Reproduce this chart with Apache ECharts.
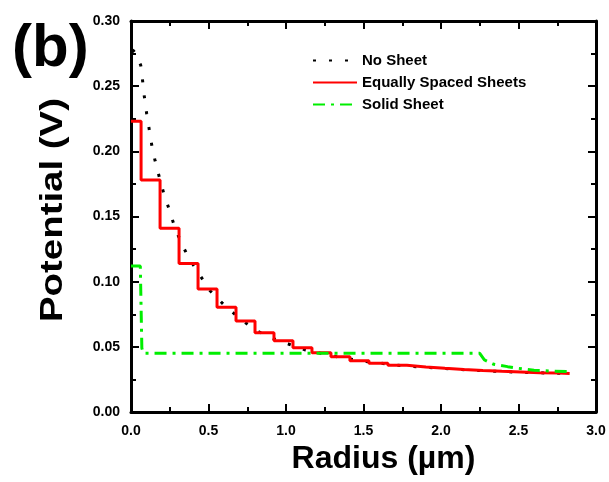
<!DOCTYPE html>
<html><head><meta charset="utf-8">
<script src="https://cdn.jsdelivr.net/npm/echarts@6/dist/echarts.min.js"></script>
<style>html,body{margin:0;padding:0;background:#fff}#c{width:609px;height:482px}</style>
</head><body><div id="c"></div>
<script>
// ---- data ----
var noSheetR = [0.01, 0.03, 0.063, 0.075, 0.086, 0.101, 0.116, 0.135, 0.155, 0.183, 0.213, 0.245, 0.279, 0.323, 0.374, 0.439, 0.51, 0.602, 0.708, 0.817, 0.916, 1.02, 1.123, 1.3, 1.5, 1.75, 2.0, 2.25, 2.5, 2.83];
var noSheetV = [0.278, 0.275, 0.266, 0.254, 0.242, 0.229, 0.218, 0.204, 0.193, 0.180, 0.167, 0.156, 0.143, 0.130, 0.118, 0.106, 0.093, 0.082, 0.071, 0.062, 0.0565, 0.052, 0.0476, 0.043, 0.039, 0.0355, 0.0335, 0.0318, 0.0305, 0.0295];

var stepEdges = [0.065, 0.1875, 0.31, 0.4325, 0.555, 0.6775, 0.80, 0.9225, 1.045, 1.1675, 1.29, 1.4125, 1.535, 1.6575, 1.78, 1.9025, 2.025, 2.1475, 2.27, 2.3925, 2.515, 2.6375, 2.76];
var stepLevels = [0.223, 0.178, 0.141, 0.114, 0.0944, 0.0803, 0.0698, 0.0609, 0.0547, 0.0493, 0.0455, 0.0424, 0.0394, 0.0374, 0.0358, 0.0345, 0.0335, 0.0326, 0.0318, 0.0312, 0.0307, 0.0302, 0.0299, 0.0296];
var stepStart = 0.0, stepEnd = 2.83;

var solidR = [0.0, 0.06, 0.07, 0.08, 2.25, 2.28, 2.34, 2.43, 2.5, 2.6, 2.7, 2.82];
var solidV = [0.112, 0.112, 0.049, 0.045, 0.045, 0.040, 0.0366, 0.0348, 0.0335, 0.032, 0.0315, 0.031];

var seriesNames = ['No Sheet', 'Equally Spaced Sheets', 'Solid Sheet'];
var xTicks = [0, 3, 0.5];
var yTicks = [0, 0.3, 0.05];
var xTitle = 'Radius (\u00b5m)';
var yTitle = 'Potential (V)';
var panelLabel = '(b)';

// ---- build ----
function zip(a, b) { return a.map(function (v, i) { return [v, b[i]]; }); }
var stepData = [[stepStart, stepLevels[0]]];
stepEdges.forEach(function (e, i) {
  stepData.push([e, stepLevels[i]]);
  stepData.push([e, stepLevels[i + 1]]);
});
stepData.push([stepEnd, stepLevels[stepLevels.length - 1]]);

var FONT = 'Arial, "Liberation Sans", sans-serif';
var tickStyle = { color: '#000', width: 2 };
function xAx(pos, showLabel) {
  return {
    type: 'value', position: pos, min: xTicks[0], max: xTicks[1], interval: xTicks[2],
    axisLine: { show: true, onZero: false, lineStyle: { color: '#000', width: 3 } },
    axisTick: { show: true, inside: true, length: 8, lineStyle: tickStyle },
    minorTick: { show: true, splitNumber: 2, length: 5, lineStyle: tickStyle },
    splitLine: { show: false },
    axisLabel: { show: showLabel, margin: 12, color: '#000', fontWeight: 'bold', fontSize: 14, fontFamily: FONT,
      formatter: function (v) { return v.toFixed(1); } },
    name: showLabel ? xTitle : '', nameLocation: 'middle', nameGap: 20,
    nameTextStyle: { color: '#000', fontWeight: 'bold', fontSize: 32, fontFamily: FONT, padding: [0, 0, 0, 40] }
  };
}
function yAx(pos, showLabel) {
  return {
    type: 'value', position: pos, min: yTicks[0], max: yTicks[1], interval: yTicks[2],
    axisLine: { show: true, onZero: false, lineStyle: { color: '#000', width: 3 } },
    axisTick: { show: true, inside: true, length: 8, lineStyle: tickStyle },
    minorTick: { show: true, splitNumber: 2, length: 5, lineStyle: tickStyle },
    splitLine: { show: false },
    axisLabel: { show: showLabel, margin: 11, color: '#000', fontWeight: 'bold', fontSize: 14, fontFamily: FONT,
      formatter: function (v) { return v.toFixed(2); } }
  };
}

var chart = echarts.init(document.getElementById('c'), null, { renderer: 'canvas' });
chart.setOption({
  animation: false,
  backgroundColor: '#fff',
  grid: { left: 131, right: 13, top: 21, bottom: 70, containLabel: false, outerBoundsMode: 'none' },
  xAxis: [xAx('bottom', true), xAx('top', false)],
  yAxis: [yAx('left', true), yAx('right', false)],
  legend: {
    orient: 'vertical', left: 307, top: 48, itemWidth: 44, itemHeight: 14, itemGap: 7,
    itemStyle: { opacity: 0 },
    textStyle: { color: '#000', fontWeight: 'bold', fontSize: 15, fontFamily: FONT },
    data: seriesNames
  },
  graphic: [
    { type: 'text', left: 12, top: 19, style: { text: panelLabel, fill: '#000', font: 'bold 60px ' + FONT } },
    { type: 'text', x: 53, y: 210, rotation: Math.PI / 2, scaleX: 1.2,
      style: { text: yTitle, x: 0, y: 0, textAlign: 'center', textVerticalAlign: 'middle', fill: '#000', font: 'bold 32px ' + FONT } }
  ],
  series: [
    { name: seriesNames[0], type: 'line', symbol: 'none', data: zip(noSheetR, noSheetV), z: 2,
      lineStyle: { color: '#000', width: 3, type: [3, 13] }, itemStyle: { color: '#000' } },
    { name: seriesNames[1], type: 'line', symbol: 'none', data: stepData, z: 3,
      lineStyle: { color: '#ff0000', width: 3 }, itemStyle: { color: '#ff0000' } },
    { name: seriesNames[2], type: 'line', symbol: 'none', data: zip(solidR, solidV), z: 4,
      lineStyle: { color: '#00ee00', width: 3, type: [12, 6, 3, 6] }, itemStyle: { color: '#00ee00' } }
  ]
});
</script></body></html>
